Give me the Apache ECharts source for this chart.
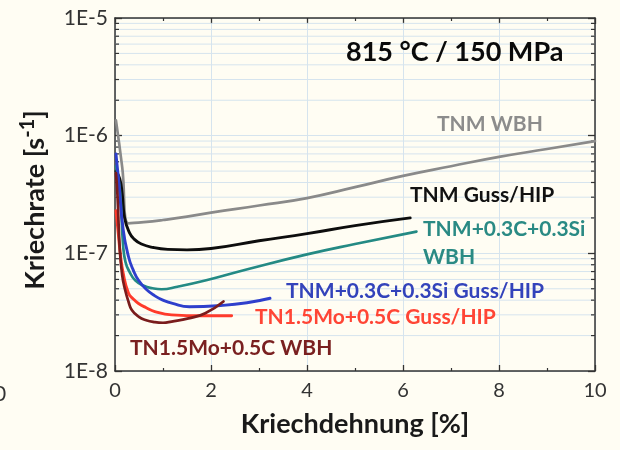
<!DOCTYPE html>
<html>
<head>
<meta charset="utf-8">
<script src="https://cdn.jsdelivr.net/npm/echarts@6/dist/echarts.min.js"></script>
<style>
  html, body { margin: 0; padding: 0; background: #fffdf3; }
  #chart { width: 620px; height: 450px; }
</style>
</head>
<body>
<div id="chart"></div>
<script>
// Creep rate vs. creep strain, 815 °C / 150 MPa
const xTickLabels = ['0', '2', '4', '6', '8', '10'];
const yTickLabels = ['1E-8', '1E-7', '1E-6', '1E-5'];

// TNM WBH
const tnmWbhX = [0.02, 0.15, 0.28, 0.6, 1, 1.5, 2, 3, 4, 5, 6, 7, 8, 9, 10];
const tnmWbhY = [1.35e-6, 5.4e-7, 1.8e-7, 1.84e-7, 1.92e-7, 2.05e-7, 2.22e-7, 2.55e-7, 2.95e-7, 3.65e-7, 4.55e-7, 5.5e-7, 6.6e-7, 7.7e-7, 9.0e-7];

// TNM Guss/HIP
const tnmGussX = [0.02, 0.1, 0.15, 0.2, 0.3, 0.4, 0.55, 0.8, 1.1, 1.5, 2, 3, 4, 5, 6.15];
const tnmGussY = [5.0e-7, 4.3e-7, 3.2e-7, 2.0e-7, 1.5e-7, 1.32e-7, 1.2e-7, 1.12e-7, 1.08e-7, 1.07e-7, 1.1e-7, 1.28e-7, 1.47e-7, 1.72e-7, 2.0e-7];

// TNM+0.3C+0.3Si WBH
const tnmCSiWbhX = [0.02, 0.1, 0.17, 0.22, 0.3, 0.42, 0.6, 0.78, 0.97, 1.3, 1.9, 2.8, 4, 5, 6.28];
const tnmCSiWbhY = [5.5e-7, 3.5e-7, 1.15e-7, 8.4e-8, 7.0e-8, 5.9e-8, 5.3e-8, 5.05e-8, 4.95e-8, 5.2e-8, 5.9e-8, 7.4e-8, 9.8e-8, 1.2e-7, 1.53e-7];

// TNM+0.3C+0.3Si Guss/HIP
const tnmCSiGussX = [0.02, 0.08, 0.17, 0.28, 0.38, 0.49, 0.65, 0.83, 1, 1.2, 1.55, 2.2, 2.75, 3.23];
const tnmCSiGussY = [7.0e-7, 4.0e-7, 1.6e-7, 9.4e-8, 7.2e-8, 5.9e-8, 4.95e-8, 4.35e-8, 4.0e-8, 3.75e-8, 3.52e-8, 3.6e-8, 3.8e-8, 4.15e-8];

// TN1.5Mo+0.5C Guss/HIP
const tn15GussX = [0.02, 0.06, 0.11, 0.17, 0.28, 0.38, 0.49, 0.65, 0.83, 1.18, 1.8, 2.43];
const tn15GussY = [2.3e-7, 1.6e-7, 1.0e-7, 6.8e-8, 4.6e-8, 4.1e-8, 3.75e-8, 3.45e-8, 3.2e-8, 3.0e-8, 2.95e-8, 2.95e-8];

// TN1.5Mo+0.5C WBH
const tn15WbhX = [0.02, 0.05, 0.1, 0.15, 0.21, 0.28, 0.35, 0.49, 0.65, 0.83, 1.0, 1.18, 1.53, 1.88, 2.26];
const tn15WbhY = [4.8e-7, 3.2e-7, 1.07e-7, 6.5e-8, 4.9e-8, 3.9e-8, 3.3e-8, 2.9e-8, 2.7e-8, 2.6e-8, 2.57e-8, 2.63e-8, 2.8e-8, 3.1e-8, 3.9e-8];

// minor log positions (2..9 of each decade)
const minorY = [];
[1e-8, 1e-7, 1e-6].forEach(d => { for (let k = 2; k <= 9; k++) minorY.push(k * d); });

const pairs = (xs, ys) => xs.map((x, i) => [x, ys[i]]);
const FONT = 'Lato';
const AXIS = '#333333';
const GRID = '#d6e4ee';

const chart = echarts.init(document.getElementById('chart'), null, { renderer: 'canvas' });

function line(name, xs, ys, color, width) {
  return {
    name, type: 'line', data: pairs(xs, ys), xAxisIndex: 0, yAxisIndex: 0,
    showSymbol: false, smooth: 0.5, clip: true, z: 5,
    lineStyle: { color, width, cap: 'round', join: 'round' }
  };
}

const LABEL_FONT = `bold 21px ${FONT}`;

const option = {
  backgroundColor: '#fffdf3',
  animation: false,
  textStyle: { fontFamily: FONT },
  grid: { left: 115, right: 25, top: 18, bottom: 79, containLabel: false },
  xAxis: [
    {
      type: 'value', min: 0, max: 10, interval: 2, position: 'bottom',
      axisLine: { show: true, onZero: false, lineStyle: { color: AXIS, width: 1.5 } },
      axisTick: { show: true, inside: true, length: 6, lineStyle: { color: AXIS, width: 1.3 } },
      minorTick: { show: true, splitNumber: 2, length: 3, lineStyle: { color: AXIS, width: 1.2 } },
      splitLine: { show: true, lineStyle: { color: GRID, width: 1 } },
      axisLabel: {
        fontSize: 20, color: '#333', margin: 10, fontFamily: FONT,
        formatter: v => xTickLabels[Math.round(v / 2)]
      },
      name: 'Kriechdehnung [%]', nameLocation: 'middle', nameGap: 40,
      nameTextStyle: { fontSize: 27, fontWeight: 'bold', color: '#1a1a1a', fontFamily: FONT }
    },
    {
      type: 'value', min: 0, max: 10, interval: 2, position: 'top',
      axisLine: { show: true, onZero: false, lineStyle: { color: AXIS, width: 1.5 } },
      axisTick: { show: true, inside: true, length: 6, lineStyle: { color: AXIS, width: 1.3 } },
      minorTick: { show: true, splitNumber: 2, length: 3, lineStyle: { color: AXIS, width: 1.2 } },
      splitLine: { show: false }, axisLabel: { show: false }
    }
  ],
  yAxis: [
    {
      type: 'log', logBase: 10, min: 1e-8, max: 1e-5, position: 'left',
      axisLine: { show: true, onZero: false, lineStyle: { color: AXIS, width: 1.5 } },
      axisTick: { show: true, inside: true, length: 7, lineStyle: { color: AXIS, width: 1.3 } },
      splitLine: { show: true, lineStyle: { color: GRID, width: 1 } },
      axisLabel: {
        fontSize: 21, color: '#333', margin: 7, fontFamily: FONT,
        formatter: v => yTickLabels[Math.round(Math.log10(v)) + 8]
      }
    },
    {
      type: 'log', logBase: 10, min: 1e-8, max: 1e-5, position: 'right',
      axisLine: { show: true, onZero: false, lineStyle: { color: AXIS, width: 1.5 } },
      axisTick: { show: true, inside: true, length: 7, lineStyle: { color: AXIS, width: 1.3 } },
      splitLine: { show: false }, axisLabel: { show: false }
    }
  ],
  series: [
    {
      // minor log grid lines and ticks on both vertical axes
      type: 'custom', xAxisIndex: 0, yAxisIndex: 0, silent: true, z: 1,
      data: minorY.map(v => [0, v]),
      renderItem: (params, api) => {
        const v = api.value(1);
        const a = api.coord([0, v]);
        const b = api.coord([10, v]);
        const tick = { stroke: AXIS, lineWidth: 1.2 };
        return {
          type: 'group',
          children: [
            { type: 'line', shape: { x1: a[0], y1: a[1], x2: b[0], y2: b[1] }, style: { stroke: GRID, lineWidth: 1 } },
            { type: 'line', shape: { x1: a[0], y1: a[1], x2: a[0] + 4, y2: a[1] }, style: tick },
            { type: 'line', shape: { x1: b[0], y1: b[1], x2: b[0] - 4, y2: b[1] }, style: tick }
          ]
        };
      }
    },
    line('TNM WBH', tnmWbhX, tnmWbhY, '#8a8a8a', 2.7),
    line('TNM Guss/HIP', tnmGussX, tnmGussY, '#0d0d0d', 2.9),
    line('TNM+0.3C+0.3Si WBH', tnmCSiWbhX, tnmCSiWbhY, '#248a84', 2.7),
    line('TNM+0.3C+0.3Si Guss/HIP', tnmCSiGussX, tnmCSiGussY, '#2e3fcc', 2.9),
    line('TN1.5Mo+0.5C Guss/HIP', tn15GussX, tn15GussY, '#ff3b2b', 2.9),
    line('TN1.5Mo+0.5C WBH', tn15WbhX, tn15WbhY, '#7a1c1c', 2.7)
  ],
  graphic: [
    { type: 'text', left: 346, top: 39, z: 10,
      style: { text: '815 °C / 150 MPa', font: `bold 27px ${FONT}`, fill: '#0a0a0a' } },
    { type: 'text', left: 437, top: 114, z: 10,
      style: { text: 'TNM WBH', font: LABEL_FONT, fill: '#8c8c8c' } },
    { type: 'text', left: 410, top: 185, z: 10,
      style: { text: 'TNM Guss/HIP', font: LABEL_FONT, fill: '#111' } },
    { type: 'text', left: 423, top: 219, z: 10,
      style: { text: 'TNM+0.3C+0.3Si', font: LABEL_FONT, fill: '#2a8a84' } },
    { type: 'text', left: 423, top: 247, z: 10,
      style: { text: 'WBH', font: LABEL_FONT, fill: '#2a8a84' } },
    { type: 'text', left: 286, top: 281, z: 10,
      style: { text: 'TNM+0.3C+0.3Si Guss/HIP', font: LABEL_FONT, fill: '#3343bb' } },
    { type: 'text', left: 255, top: 307, z: 10,
      style: { text: 'TN1.5Mo+0.5C Guss/HIP', font: LABEL_FONT, fill: '#ff4535' } },
    { type: 'text', left: 130, top: 338, z: 10,
      style: { text: 'TN1.5Mo+0.5C WBH', font: LABEL_FONT, fill: '#7a2020' } },
    { type: 'text', x: 35, y: 200, rotation: Math.PI / 2, z: 10,
      style: {
        text: 'Kriechrate [s{sup|-1}]', align: 'center', verticalAlign: 'middle',
        font: `bold 27px ${FONT}`, fill: '#1a1a1a',
        rich: { sup: { fontSize: 20, fontWeight: 'bold', fontFamily: FONT, fill: '#1a1a1a', verticalAlign: 'top', padding: [0, 0, 14, 0] } }
      } },
    { type: 'text', left: -6, top: 384, z: 10,
      style: { text: '0', font: `21px ${FONT}`, fill: '#333' } }
  ]
};

chart.setOption(option);
</script>
</body>
</html>
